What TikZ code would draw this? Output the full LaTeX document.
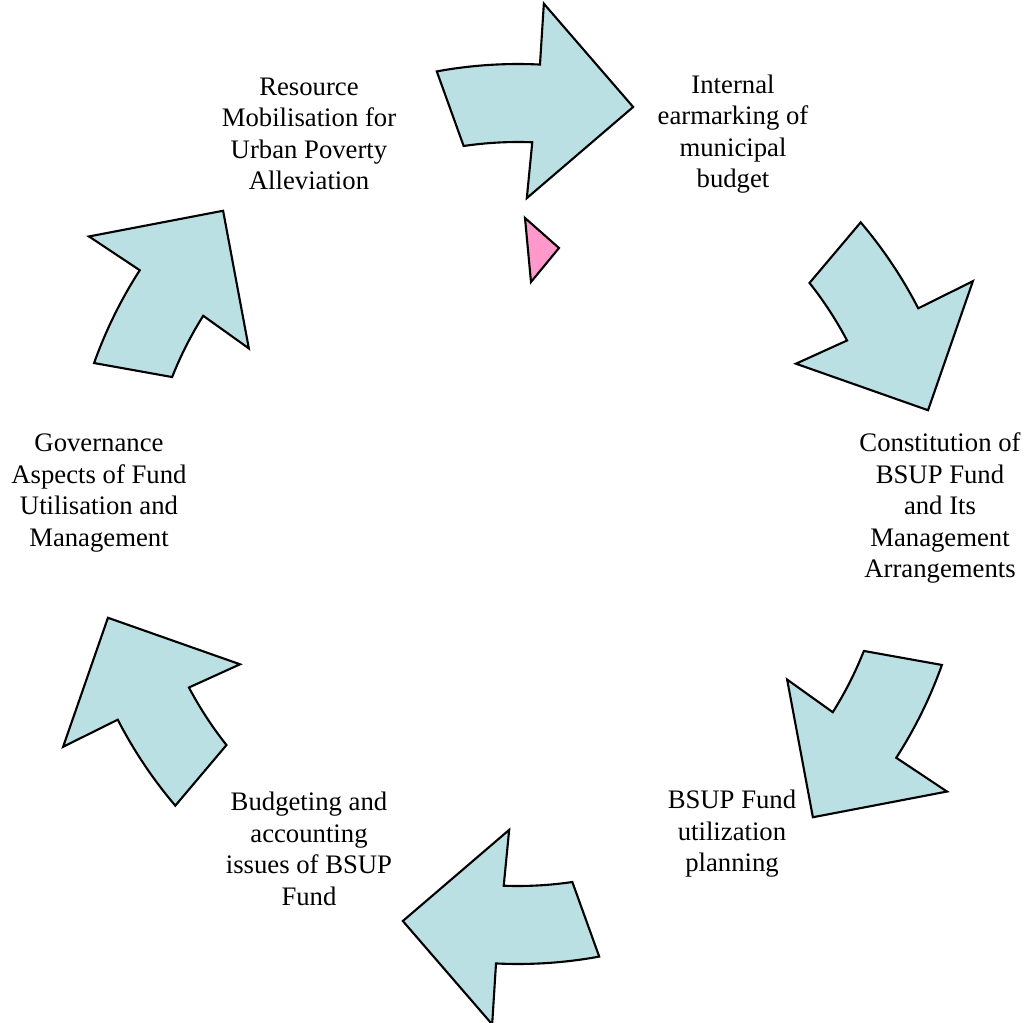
\documentclass[tikz,border=0pt]{standalone}
\usepackage{tikz}
\usepackage{fontspec}
\setmainfont{Liberation Serif}
\definecolor{arrowfill}{RGB}{187,224,227}
\definecolor{pinkmark}{RGB}{255,153,204}
\begin{document}
\begin{tikzpicture}[line join=miter, font=\fontsize{7.6}{8.96}\selectfont,
	cyclearrow/.style={draw=black, line width=0.6pt, fill=arrowfill},
	steplabel/.style={align=center, inner sep=0pt}]
	% Khung hình
	\useasboundingbox (-5.18,-5.08) rectangle (5.10,5.14);
	\coordinate (C) at (0,0);
	% Các mũi tên cong quanh tâm
	\foreach \r in {0,-60,-120,-180,-240,-300}
	{
		\begin{scope}[rotate=\r]
			\draw[cyclearrow] (100.4:4.50) arc[start angle=100.4, end angle=87.2, radius=4.50]
				-- (87.1:5.11) -- (74.2:4.23) -- (88.4:3.16) -- (87.8:3.72)
				arc[start angle=87.8, end angle=98.4, radius=3.72] -- cycle;
		\end{scope}
	}
	% Tam giác nhỏ
	\coordinate (T1) at (0.07,2.96);
	\coordinate (T2) at (0.41,2.66);
	\coordinate (T3) at (0.13,2.32);
	\draw[line width=0.6pt, fill=pinkmark] (T1) -- (T2) -- (T3) -- cycle;
	% Nhãn các bước
	\node[steplabel] (resource) at (-2.09,3.80) {Resource\\Mobilisation for\\Urban Poverty\\Alleviation};
	\node[steplabel] (internal) at (2.15,3.80) {Internal\\earmarking of\\municipal\\budget};
	\node[steplabel] (constitution) at (4.22,0.06) {Constitution of\\BSUP Fund\\and Its\\Management\\Arrangements};
	\node[steplabel] (planning) at (2.14,-3.20) {BSUP Fund\\utilization\\planning};
	\node[steplabel] (budgeting) at (-2.09,-3.35) {Budgeting and\\accounting\\issues of BSUP\\Fund};
	\node[steplabel] (governance) at (-4.19,0.21) {Governance\\Aspects of Fund\\Utilisation and\\Management};
\end{tikzpicture}
\end{document}
